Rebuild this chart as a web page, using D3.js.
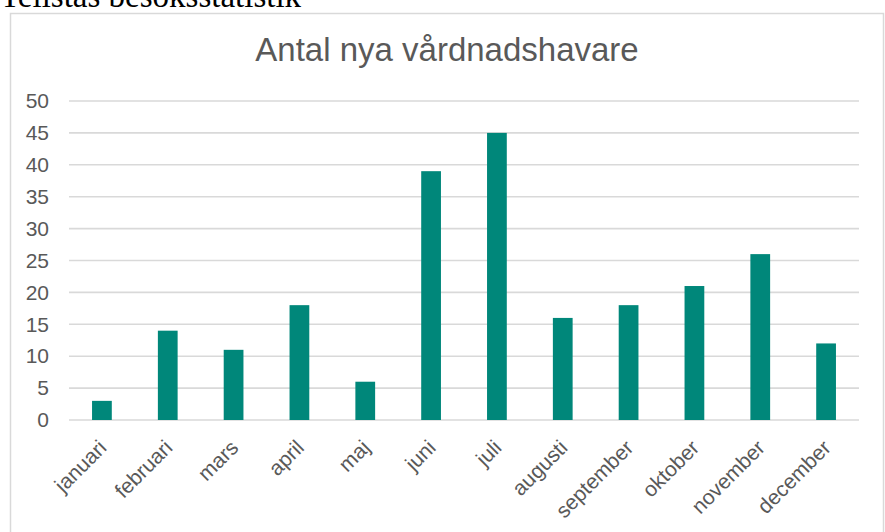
<!DOCTYPE html>
<html lang="sv">
<head>
<meta charset="UTF-8">
<title>Antal nya vårdnadshavare</title>
<script src="https://d3js.org/d3.v7.min.js"></script>
<style>
  body { margin: 0; background: #fff; }
</style>
</head>
<body>
<svg id="chart" width="885" height="532"></svg>
<script>
  // data
  var months = ["januari", "februari", "mars", "april", "maj", "juni", "juli",
                "augusti", "september", "oktober", "november", "december"];
  var counts = [3, 14, 11, 18, 6, 39, 45, 16, 18, 21, 26, 12];
  var yTicks = [0, 5, 10, 15, 20, 25, 30, 35, 40, 45, 50];

  var svg = d3.select("#chart");
  var font = "Liberation Sans, Arial, sans-serif";

  // page heading, cut off at the top
  svg.append("text")
    .attr("x", 0).attr("y", 7)
    .attr("font-family", "Liberation Serif, Times New Roman, serif")
    .attr("font-size", 33)
    .attr("fill", "#000")
    .text("Tellstas besöksstatistik");

  // chart frame
  svg.append("rect")
    .attr("x", 10.5).attr("y", 13.5)
    .attr("width", 873).attr("height", 530)
    .attr("fill", "#fff")
    .attr("stroke", "#d9d9d9")
    .attr("stroke-width", 1.5);

  var plotLeft = 69, plotRight = 859, plotTop = 101, plotBottom = 420;

  var x = d3.scaleBand().domain(months).range([plotLeft, plotRight]).paddingInner(0.7).paddingOuter(0.35);
  var y = d3.scaleLinear().domain([0, 50]).range([plotBottom, plotTop]);

  svg.append("text")
    .attr("x", 447).attr("y", 61)
    .attr("text-anchor", "middle")
    .attr("font-family", font)
    .attr("font-size", 33)
    .attr("fill", "#595959")
    .text("Antal nya vårdnadshavare");

  // grid
  svg.append("g")
    .selectAll("line")
    .data(yTicks)
    .enter().append("line")
      .attr("x1", plotLeft).attr("x2", plotRight)
      .attr("y1", d => y(d))
      .attr("y2", d => y(d))
      .attr("stroke", "#d9d9d9")
      .attr("stroke-width", 1.6);

  // y axis labels
  var yAxis = svg.append("g")
    .attr("transform", "translate(" + (plotLeft - 20) + ",0)")
    .call(d3.axisLeft(y).tickValues(yTicks).tickSize(0).tickPadding(0));
  yAxis.select(".domain").remove();
  yAxis.selectAll("text")
    .attr("font-family", font)
    .attr("font-size", 21)
    .attr("fill", "#595959");

  // bars
  svg.append("g")
    .selectAll("rect")
    .data(months)
    .enter().append("rect")
      .attr("x", d => x(d))
      .attr("width", x.bandwidth())
      .attr("y", (d, i) => y(counts[i]))
      .attr("height", (d, i) => y(0) - y(counts[i]))
      .attr("fill", "#00877a");

  // x axis labels, rotated
  var xAxis = svg.append("g")
    .attr("transform", "translate(" + (x.bandwidth() / 2 ? 0 : 0) + "," + plotBottom + ")")
    .call(d3.axisBottom(x).tickSize(0).tickPadding(0));
  xAxis.select(".domain").remove();
  xAxis.selectAll("text")
    .attr("font-family", font)
    .attr("font-size", 21)
    .attr("fill", "#595959")
    .attr("text-anchor", "end")
    .attr("x", 0).attr("y", 0).attr("dy", 0)
    .attr("transform", "translate(6,29) rotate(-45)");
</script>
</body>
</html>
